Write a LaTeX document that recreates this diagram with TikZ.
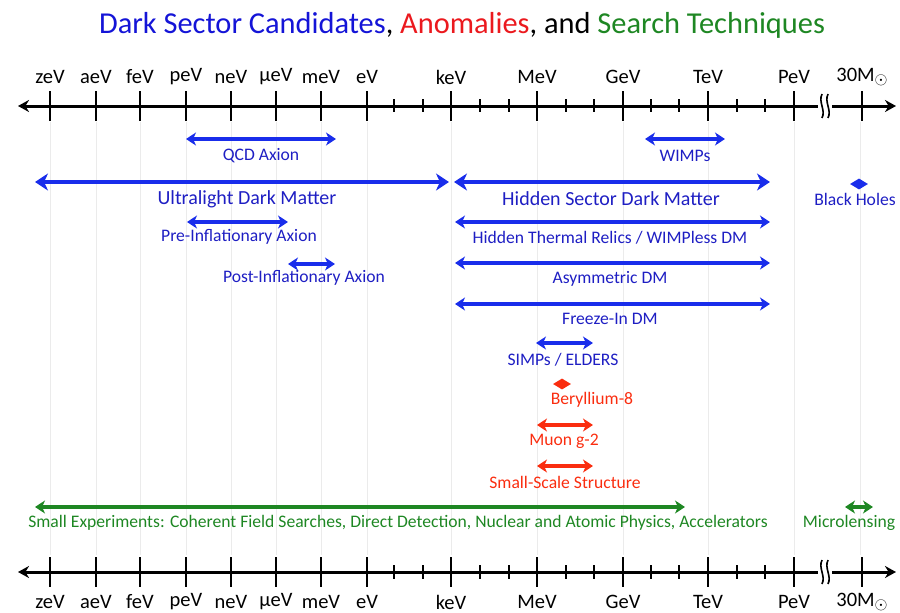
\documentclass[tikz,border=0pt]{standalone}
\usepackage{fontspec}
\setmainfont{Carlito}
\usetikzlibrary{arrows.meta,shapes.geometric}

\definecolor{dsblue}{RGB}{25,45,235}
\definecolor{txtblue}{RGB}{30,30,195}
\definecolor{ttlblue}{RGB}{20,20,215}
\definecolor{dsred}{RGB}{250,45,15}
\definecolor{ttlred}{RGB}{235,25,30}
\definecolor{dsgreen}{RGB}{30,135,35}
\definecolor{gridgray}{RGB}{235,235,235}

\newcommand{\solarmass}{30M\raisebox{-3pt}{\scalebox{0.8}{$\odot$}}}

\tikzset{
  axisline/.style={line width=3pt, {Stealth[length=11pt,width=12pt]}-{Stealth[length=11pt,width=12pt]}},
  majtick/.style={line width=2.6pt},
  mintick/.style={line width=2.2pt},
  axlbl/.style={font=\fontsize{20.5}{20.5}\selectfont},
  bluearr/.style={color=dsblue, line width=3.2pt, {Stealth[length=10pt,width=13pt,inset=3pt]}-{Stealth[length=10pt,width=13pt,inset=3pt]}},
  bigarr/.style={bluearr, line width=4.5pt, {Stealth[length=13pt,width=17pt,inset=4pt]}-{Stealth[length=13pt,width=17pt,inset=4pt]}},
  redarr/.style={bluearr, color=dsred, line width=3.6pt},
  greenarr/.style={bluearr, color=dsgreen},
  lbl/.style={text=txtblue, font=\fontsize{17.6}{17.6}\selectfont},
  biglbl/.style={text=txtblue, font=\fontsize{20}{20}\selectfont},
  redlbl/.style={lbl, text=dsred},
  greenlbl/.style={lbl, text=dsgreen},
  gem/.style={diamond, inner sep=0pt, minimum width=18pt, minimum height=11pt},
}

\begin{document}
\begin{tikzpicture}[x=1pt, y=-1pt]
\useasboundingbox (0,0) rectangle (900,613);

\node[font=\fontsize{30.4}{30.4}\selectfont] (title) at (462,25) {\textcolor{ttlblue}{Dark Sector Candidates}, \textcolor{ttlred}{Anomalies}, and \textcolor{dsgreen}{Search Techniques}};

% faint grid
\foreach \x in {50,96,140,186,231,276,321,367,451,537,623,708,794,860}
  \draw[gridgray, line width=0.8pt] (\x,122) -- (\x,555);

% top and bottom axes
\coordinate (tl) at (18,106);
\coordinate (tr) at (896,106);
\coordinate (bl) at (18,572);
\coordinate (br) at (896,572);
\draw[axisline] (tl) -- (tr);
\draw[axisline] (bl) -- (br);

\foreach \x/\t [count=\i] in {50/zeV,96/aeV,140/feV,186/peV,231/neV,276/µeV,321/meV,367/eV,451/keV,537/MeV,623/GeV,708/TeV,794/PeV,862/\solarmass}{
  \draw[majtick] (\x,91) -- (\x,121);
  \draw[majtick] (\x,557) -- (\x,587);
  \node[axlbl] (top\i) at (\x,77) {\t};
  \node[axlbl] (bot\i) at (\x,602) {\t};
}
\foreach \x in {394,423,480,509,566,594,651,679,737,765}{
  \draw[mintick] (\x,99) -- (\x,112);
  \draw[mintick] (\x,565) -- (\x,579);
}

% axis break
\foreach \y in {106,572}{
  \fill[white] (818,\y-7) rectangle (832,\y+7);
  \draw[line width=1.6pt] (822,\y-12) .. controls (818,\y-4) and (826,\y+4) .. (822,\y+12);
  \draw[line width=1.6pt] (828,\y-12) .. controls (824,\y-4) and (832,\y+4) .. (828,\y+12);
}

% candidates
\draw[bluearr] (186,139) -- (336,139);
\node[lbl] (qcd) at (261,156) {QCD Axion};
\draw[bluearr] (645,139) -- (725,139);
\node[lbl] (wimp) at (685,156) {WIMPs};

\draw[bigarr] (35,182) -- (449,182);
\node[biglbl] (uldm) at (247,199) {Ultralight Dark Matter};
\draw[bigarr] (454,182) -- (770,182);
\node[biglbl] (hsdm) at (611,199) {Hidden Sector Dark Matter};
\node[gem, fill=dsblue] (bhgem) at (859,184) {};
\node[lbl] (bh) at (855,199) {Black Holes};

\draw[bluearr] (187,222) -- (288,222);
\node[lbl] (pre) at (239,237) {Pre-Inflationary Axion};
\draw[bluearr] (455,222) -- (770,222);
\node[lbl] (htr) at (610,238) {Hidden Thermal Relics / WIMPless DM};

\draw[bluearr] (288,264) -- (335,264);
\node[lbl] (post) at (304,278) {Post-Inflationary Axion};
\draw[bluearr] (455,263) -- (770,263);
\node[lbl] (asym) at (610,279) {Asymmetric DM};

\draw[bluearr] (455,304) -- (770,304);
\node[lbl] (fi) at (610,319) {Freeze-In DM};
\draw[bluearr] (536,343) -- (593,343);
\node[lbl] (simp) at (563,360) {SIMPs / ELDERS};

% anomalies
\node[gem, fill=dsred] (begem) at (562,384) {};
\node[redlbl] (be) at (592,400) {Beryllium-8};
\draw[redarr] (537,425) -- (593,425);
\node[redlbl] (muon) at (564,441) {Muon g-2};
\draw[redarr] (537,466) -- (593,466);
\node[redlbl] (sss) at (565,482) {Small-Scale Structure};

% search techniques
\draw[greenarr] (35,507) -- (685,507);
\node[greenlbl] (small) at (398,523) {Small Experiments: Coherent Field Searches, Direct Detection, Nuclear and Atomic Physics, Accelerators};
\draw[greenarr] (845,507) -- (873,507);
\node[greenlbl] (micro) at (849,523) {Microlensing};

\end{tikzpicture}
\end{document}
